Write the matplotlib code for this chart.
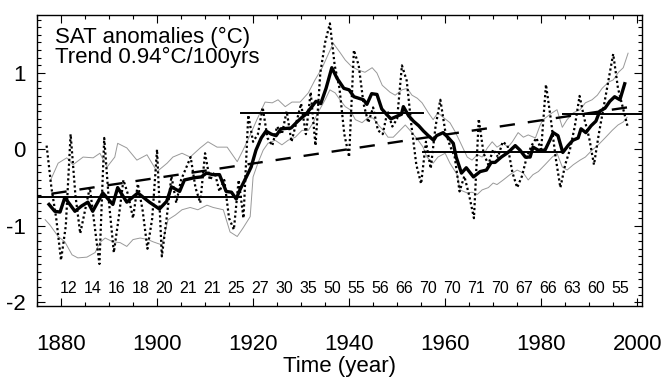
import numpy as np
import matplotlib
matplotlib.use('Agg')
import matplotlib.pyplot as plt
import matplotlib.ticker as ticker

plt.rcParams['font.family'] = ['Liberation Sans', 'DejaVu Sans']

# annual SAT anomalies (dotted)
annual_years = np.arange(1877, 1999)
annual_vals = [
    0.05, -0.5, -0.9, -1.45, -1.0, 0.2, -0.6, -1.1, -0.8, -0.5,
    -1.0, -1.5, 0.15, -0.7, -1.35, -0.9, -0.4, -0.6, -0.9, -0.45,
    -0.8, -1.3, -0.9, 0.0, -1.4, -0.9, -0.35, -0.7, -0.4, -0.25,
    -0.1, -0.5, -0.7, -0.05, -0.4, -0.3, -0.55, -0.4, -0.9, -1.05,
    -0.4, -0.9, 0.45, 0.1, 0.2, 0.55, 0.15, 0.05, 0.3, 0.2,
    0.5, 0.1, 0.35, 0.6, 0.2, 0.75, 0.05, 1.0, 1.4, 1.65,
    1.1, 0.8, 0.2, -0.1, 1.3, 1.1, 0.6, 0.35, 0.55, 0.25,
    0.2, 0.5, 0.3, 0.4, 1.1, 0.9, 0.3, -0.2, -0.45, 0.1,
    -0.25, 0.3, 0.65, 0.25, 0.05, -0.1, -0.55, -0.35, -0.6, -0.9,
    0.4, -0.05, -0.2, 0.0, -0.1, 0.1, 0.05, -0.3, -0.5, -0.35,
    -0.1, 0.05, 0.15, 0.0, 0.85, 0.4, -0.1, -0.5, -0.2, 0.0,
    0.3, 0.7, 0.4, 0.15, -0.2, 0.2, 0.55, 0.9, 1.25, 0.8,
    0.55, 0.3,
]

# smoothed curve (thick solid)
smooth_years = [1877.5, 1878.7, 1879.8, 1880.8, 1882.9, 1884.3, 1885.6, 1886.6, 1888.7, 1890.8,
                1891.8, 1893.7, 1896, 1898.4, 1900.5, 1902, 1903, 1904.7, 1905.7, 1907.8,
                1909.2, 1910.3, 1911.6, 1913, 1914.4, 1915.5, 1916.5, 1917.1, 1918.6, 1919.6,
                1920.6, 1921.7, 1922.7, 1923.8, 1924.8, 1925.8, 1927.9, 1929, 1930, 1931,
                1932, 1933.1, 1934.1, 1935.2, 1936.4, 1937.5, 1938.9, 1940, 1941, 1943,
                1943.7, 1944.7, 1945.8, 1946.8, 1947.8, 1948.7, 1950.9, 1951.3, 1952.4, 1953.4,
                1954.5, 1955.5, 1956.5, 1957.6, 1958.2, 1959.6, 1960.7, 1961.7, 1962.3, 1963.4,
                1964.4, 1965.9, 1967.3, 1968.6, 1969.6, 1970.4, 1971.7, 1973.1, 1974.6, 1975.6,
                1976.7, 1977.7, 1978.3, 1979.4, 1980.8, 1981.8, 1982.5, 1983.5, 1984.5, 1985.6,
                1986.6, 1987.7, 1988.3, 1989.3, 1990.4, 1991.4, 1992.2, 1993.3, 1994.3, 1995.3,
                1996.4, 1997.4]
smooth_vals = [-0.72, -0.81, -0.82, -0.63, -0.81, -0.74, -0.69, -0.81, -0.57, -0.72,
               -0.5, -0.69, -0.57, -0.69, -0.78, -0.68, -0.49, -0.55, -0.4, -0.37,
               -0.36, -0.31, -0.33, -0.33, -0.55, -0.56, -0.65, -0.55, -0.36, -0.23,
               -0.01, 0.15, 0.24, 0.2, 0.18, 0.27, 0.28, 0.35, 0.41, 0.46,
               0.54, 0.63, 0.6, 0.8, 1.07, 0.93, 0.8, 0.78, 0.69, 0.65,
               0.59, 0.73, 0.72, 0.53, 0.46, 0.4, 0.46, 0.56, 0.44, 0.37,
               0.31, 0.24, 0.18, 0.12, 0.18, 0.22, 0.15, 0.08, -0.1, -0.31,
               -0.24, -0.36, -0.29, -0.27, -0.17, -0.17, -0.1, -0.04, 0.05, -0.01,
               -0.1, -0.1, 0.03, -0.01, -0.01, 0.12, 0.22, 0.18, -0.04, 0.05,
               0.12, 0.15, 0.27, 0.22, 0.31, 0.37, 0.5, 0.54, 0.63, 0.69,
               0.65, 0.86]

# upper bound (thin grey)
upper_years = [1877.7, 1879.4, 1881.2, 1882.5, 1884.6, 1886.7, 1888.1, 1889.6, 1891.2, 1891.8,
               1893.7, 1895.8, 1897.9, 1900, 1902.1, 1903.3, 1905.2, 1906.9, 1909, 1910.6,
               1912.5, 1914.6, 1916.7, 1917.9, 1919.4, 1920.8, 1922.5, 1924, 1925.2, 1926.7,
               1928.1, 1929.8, 1931.5, 1932.9, 1934.4, 1935.4, 1936.7, 1938.1, 1939.2, 1940.6,
               1941.9, 1943.3, 1944.8, 1945.8, 1946.9, 1948.5, 1949.6, 1951, 1952.1, 1953.1,
               1954.2, 1955.2, 1956.5, 1957.5, 1958.5, 1959.6, 1961, 1962.1, 1963.1, 1964.6,
               1965.6, 1966.7, 1967.7, 1968.8, 1969.8, 1970.8, 1972.1, 1973.1, 1974, 1975.2,
               1976.3, 1977.3, 1978.8, 1979.8, 1980.4, 1982.3, 1983.3, 1984.4, 1985.4, 1986.7,
               1988.1, 1989.2, 1990.6, 1991.7, 1992.7, 1994, 1995, 1996.1, 1997.1, 1998.1]
upper_vals = [-0.42, -0.18, -0.11, -0.2, -0.1, -0.11, -0.05, -0.23, -0.1, 0.08,
              0.02, -0.14, -0.07, -0.29, -0.18, -0.1, -0.05, -0.1, 0.02, 0.1,
              0.03, 0.03, -0.16, -0.01, 0.19, 0.39, 0.62, 0.61, 0.65, 0.56,
              0.62, 0.62, 0.74, 0.91, 1.07, 1.21, 1.39, 1.27, 1.17, 1.08,
              1.04, 1.01, 1.07, 1.0, 0.84, 0.75, 0.71, 0.78, 0.8, 0.71,
              0.67, 0.61, 0.48, 0.39, 0.48, 0.42, 0.35, 0.23, 0.1, -0.1,
              -0.14, -0.07, -0.1, 0.02, 0.1, 0.03, 0.08, 0.03, 0.1, 0.22,
              0.16, 0.19, 0.15, 0.32, 0.39, 0.48, 0.52, 0.29, 0.39, 0.48,
              0.52, 0.61, 0.65, 0.71, 0.8, 0.88, 0.91, 1.01, 1.07, 1.26]

# lower bound (thin grey)
lower_years = [1876.7, 1877.7, 1879.4, 1880.8, 1882.3, 1883.5, 1885.4, 1887.1, 1888.1, 1889.2,
               1890.8, 1892.3, 1893.7, 1895, 1896.5, 1898.1, 1899.2, 1901, 1902.3, 1903.8,
               1905.2, 1906.9, 1908.5, 1910.4, 1911.7, 1913.8, 1915.2, 1916.7, 1917.9, 1919.4,
               1920, 1921, 1922.1, 1923.1, 1924.6, 1926, 1927.3, 1928.8, 1930.2, 1931.5,
               1932.5, 1933.5, 1935, 1936, 1937.1, 1938.1, 1939.2, 1940.2, 1941.3, 1942.7,
               1944, 1945, 1946.1, 1947.1, 1948.1, 1949.2, 1950.6, 1951.7, 1953.1, 1954.4,
               1955.4, 1956.2, 1957.5, 1958.5, 1960, 1961, 1962.5, 1963.1, 1964.6, 1965.6,
               1966.7, 1967.7, 1969, 1970, 1970.8, 1972.1, 1973.5, 1975, 1976.3, 1977.3,
               1978.3, 1979.4, 1980.8, 1982.3, 1983.3, 1984.4, 1985.4, 1986.7, 1988.1, 1989.2,
               1990.6, 1991.9, 1993.3, 1994.8, 1996, 1997.1, 1997.9]
lower_vals = [-0.92, -0.99, -1.14, -1.21, -1.38, -1.42, -1.41, -1.35, -1.22, -1.16,
              -1.21, -1.22, -1.27, -1.18, -1.16, -1.18, -1.21, -1.25, -0.92, -0.86,
              -0.79, -0.76, -0.79, -0.73, -0.76, -0.79, -1.08, -1.14, -1.03, -0.88,
              -0.36, -0.18, -0.01, 0.08, 0.12, 0.06, 0.12, 0.16, 0.25, 0.25,
              0.35, 0.48, 0.65, 0.78, 0.74, 0.65, 0.56, 0.52, 0.39, 0.35,
              0.42, 0.41, 0.32, 0.25, 0.16, 0.16, 0.25, 0.32, 0.22, 0.12,
              0.03, -0.1, -0.18, -0.1, -0.05, -0.18, -0.33, -0.53, -0.57, -0.56,
              -0.59, -0.53, -0.5, -0.44, -0.46, -0.4, -0.33, -0.27, -0.31, -0.4,
              -0.33, -0.29, -0.2, -0.1, -0.05, -0.23, -0.27, -0.2, -0.14, -0.1,
              -0.01, 0.06, 0.15, 0.25, 0.32, 0.36, 0.42]

# regime means (horizontal segments)
step_start = [1875, 1917.5, 1955.3, 1984.5]
step_end = [1917.5, 1955.3, 1984.5, 2001]
step_mean = [-0.62, 0.48, -0.04, 0.47]

# linear trend (dashed)
trend_years = [1878, 2000]
trend_vals = [-0.58, 0.57]

# station counts per 5-yr bin
count_years = [1881.5 + 5 * i for i in range(24)]
count_labels = ['12', '14', '16', '18', '20', '21', '21', '25', '27', '30', '35', '50',
                '55', '56', '66', '70', '70', '71', '70', '67', '66', '63', '60', '55']

fig = plt.figure(figsize=(6.64, 3.8), dpi=100)
ax = fig.add_axes([37 / 664, 1 - 306 / 380, 605 / 664, 291 / 380])

ax.plot(upper_years, upper_vals, color='0.6', lw=0.7)
ax.plot(lower_years, lower_vals, color='0.6', lw=0.7)
ax.plot(annual_years, annual_vals, color='black', lw=1.6, linestyle=(0, (1, 1.2)))
for s, e, m in zip(step_start, step_end, step_mean):
    ax.plot([s, e], [m, m], color='black', lw=1.4)
ax.plot(trend_years, trend_vals, color='black', lw=1.7, linestyle=(0, (6.5, 5.5)))
ax.plot(smooth_years, smooth_vals, color='black', lw=2.4)

for yr, lab in zip(count_years, count_labels):
    ax.text(yr, -1.82, lab, ha='center', va='center', fontsize=11.5)

ax.text(0.03, 0.96, 'SAT anomalies (\u00b0C)\nTrend 0.94\u00b0C/100yrs',
        transform=ax.transAxes, ha='left', va='top', fontsize=16, linespacing=0.92)

ax.set_xlim(1875, 2001)
ax.set_ylim(-2.05, 1.76)
ax.xaxis.set_major_locator(ticker.MultipleLocator(20))
ax.xaxis.set_minor_locator(ticker.MultipleLocator(5))
ax.yaxis.set_major_locator(ticker.MultipleLocator(1))
ax.yaxis.set_minor_locator(ticker.MultipleLocator(0.1))
ax.tick_params(which='both', direction='in', top=True, right=True, width=0.8)
ax.tick_params(which='major', length=6, labelsize=16)
ax.tick_params(which='minor', length=3)
ax.tick_params(axis='x', which='major', pad=20)
ax.tick_params(axis='y', which='major', pad=8)
ax.yaxis.set_major_formatter(ticker.FuncFormatter(lambda v, p: '%d' % v))
for sp in ax.spines.values():
    sp.set_linewidth(1.0)

ax.set_xlabel('Time (year)', fontsize=16, labelpad=1)

plt.savefig('out.png', dpi=100)
